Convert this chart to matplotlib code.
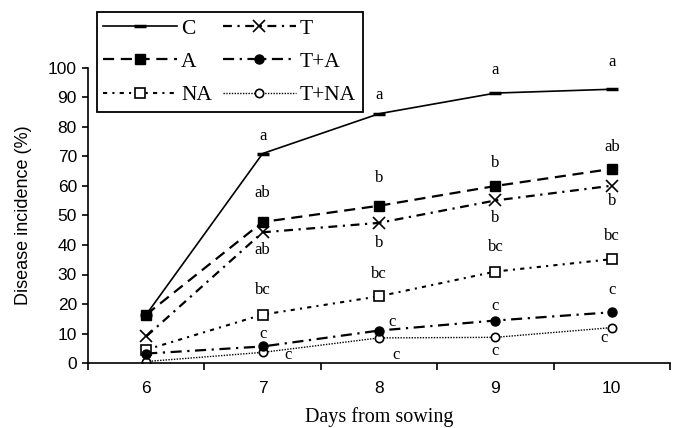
import matplotlib

matplotlib.use("Agg")

import matplotlib.pyplot as plt

# data
days = [6, 7, 8, 9, 10]
inc_c = [16.4, 71.0, 84.5, 91.5, 92.8]
inc_t = [9.0, 44.3, 47.5, 55.1, 60.1]
inc_a = [16.4, 47.8, 53.3, 60.0, 65.8]
inc_ta = [3.2, 5.6, 11.0, 14.4, 17.2]
inc_na = [4.5, 16.4, 22.6, 31.0, 35.2]
inc_tna = [0.5, 3.6, 8.5, 8.7, 12.0]

# significance letters: (day, y, letter)
sig_letters = [
    (7.0, 76.8, "a"), (7.0, 57.5, "ab"), (7.0, 38.4, "ab"), (7.0, 24.8, "bc"),
    (7.0, 9.9, "c"), (7.22, 2.8, "c"),
    (8.0, 90.9, "a"), (8.0, 62.7, "b"), (8.0, 40.7, "b"), (8.0, 30.3, "bc"),
    (8.11, 13.8, "c"), (8.15, 2.8, "c"),
    (9.0, 99.4, "a"), (9.0, 67.8, "b"), (9.0, 49.3, "b"), (9.0, 39.4, "bc"),
    (9.0, 19.2, "c"), (9.0, 3.9, "c"),
    (10.0, 102.0, "a"), (10.0, 73.2, "ab"), (10.0, 54.8, "b"), (10.0, 43.1, "bc"),
    (10.0, 24.8, "c"), (9.93, 8.5, "c"),
]

y_ticks = [0, 10, 20, 30, 40, 50, 60, 70, 80, 90, 100]

SANS = "Liberation Sans"
SERIF = "Liberation Serif"

fig = plt.figure(figsize=(6.78, 4.28), dpi=100)
ax = fig.add_axes([88 / 678, 65 / 428, 582 / 678, 295 / 428])

l_c, = ax.plot(days, inc_c, color="black", lw=1.2, marker="_", ms=9, mew=2.5, label="C")
l_na, = ax.plot(days, inc_na, color="black", lw=1.5, dashes=(2, 2.5, 1, 2.5), marker="s", ms=6.5,
                mfc="white", mec="black", mew=1.2, label="NA")
l_tna, = ax.plot(days, inc_tna, color="black", lw=1.0, dashes=(1, 1), marker="o", ms=6,
                 mfc="white", mec="black", mew=1.2, label="T+NA")
l_ta, = ax.plot(days, inc_ta, color="black", lw=1.6, dashes=(5, 2.5, 1, 2.5), marker="o", ms=6.5,
                mfc="black", mec="black", label="T+A")
l_t, = ax.plot(days, inc_t, color="black", lw=1.6, dashes=(4, 2.5, 1, 2.5), marker="x", ms=8,
               mew=1.2, label="T")
l_a, = ax.plot(days, inc_a, color="black", lw=1.6, dashes=(5, 3), marker="s", ms=6.5,
               mfc="black", mec="black", label="A")

for x, y, s in sig_letters:
    ax.text(x, y, s, ha="center", va="center", fontsize=12, family=SERIF, clip_on=False)

ax.set_xlim(5.5, 10.5)
ax.set_ylim(0, 100)
ax.set_xticks([5.5, 6.5, 7.5, 8.5, 9.5, 10.5])
ax.set_xticklabels([])
ax.set_xticks(days, minor=True)
ax.set_xticklabels([str(d) for d in days], minor=True, fontsize=12.5, family=SANS)
ax.tick_params(axis="x", which="major", direction="out", length=5, width=1.2)
ax.tick_params(axis="x", which="minor", length=0, pad=13)
ax.set_yticks(y_ticks)
ax.set_yticklabels([str(v) for v in y_ticks], fontsize=12.5, family=SANS)
ax.tick_params(axis="y", direction="out", length=4.5, width=1.2, pad=3.5)

for side in ("top", "right"):
    ax.spines[side].set_visible(False)
for side in ("left", "bottom"):
    ax.spines[side].set_linewidth(1.2)

ax.set_ylabel("Disease incidence (%)", fontsize=13, family=SANS)
ax.yaxis.set_label_coords(-0.097, 0.5)
ax.set_xlabel("Days from sowing", fontsize=14.5, family=SERIF)
ax.xaxis.set_label_coords(0.5, -0.15)

leg = ax.legend(
    handles=[l_c, l_a, l_na, l_t, l_ta, l_tna],
    ncol=2,
    loc="upper left",
    bbox_to_anchor=(97 / 678, 1 - 12 / 428),
    bbox_transform=fig.transFigure,
    borderaxespad=0,
    prop={"family": SERIF, "size": 15.5},
    handlelength=3.4,
    handletextpad=0.2,
    columnspacing=0.5,
    labelspacing=0.62,
    borderpad=0.3,
    fancybox=False,
    framealpha=1,
    edgecolor="black",
)
leg.get_frame().set_linewidth(1.3)

fig.savefig("out.png", dpi=100)
